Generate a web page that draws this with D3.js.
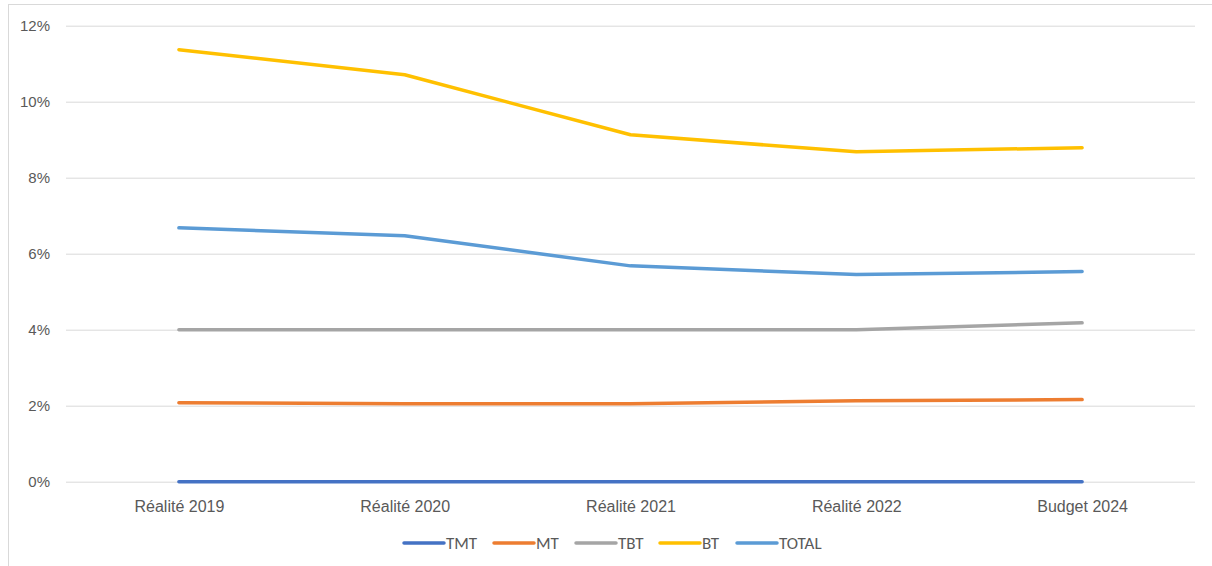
<!DOCTYPE html>
<html>
<head>
<meta charset="utf-8">
<script src="https://cdn.jsdelivr.net/npm/d3@7"></script>
<style>
  body { margin: 0; background: #fff; }
  svg { display: block; font-family: Carlito, "Liberation Sans", "Open Sans", sans-serif; }
</style>
</head>
<body>
<div id="chart"></div>
<script>
// data
const categories = ["Réalité 2019", "Réalité 2020", "Réalité 2021", "Réalité 2022", "Budget 2024"];
const seriesNames = ["TMT", "MT", "TBT", "BT", "TOTAL"];
const tmt = [0, 0, 0, 0, 0];
const mt = [0.0208, 0.0205, 0.0205, 0.0213, 0.0216];
const tbt = [0.04, 0.04, 0.04, 0.04, 0.0418];
const bt = [0.1137, 0.1071, 0.0913, 0.0868, 0.0879];
const total = [0.0668, 0.0647, 0.0568, 0.0545, 0.0553];
const yTicks = [0, 0.02, 0.04, 0.06, 0.08, 0.10, 0.12];

const colors = ["#4472C4", "#ED7D31", "#A5A5A5", "#FFC000", "#5B9BD5"];
const values = [tmt, mt, tbt, bt, total];

const width = 1212, height = 566;
const plot = { left: 66, right: 1195, top: 25.7, bottom: 481.7 };

const svg = d3.select("#chart").append("svg")
  .attr("width", width)
  .attr("height", height);

// chart border
svg.append("rect")
  .attr("x", 8.5).attr("y", 4.5)
  .attr("width", width).attr("height", height)
  .attr("fill", "none")
  .attr("stroke", "#d9d9d9");

const x = d3.scalePoint()
  .domain(categories)
  .range([plot.left, plot.right])
  .padding(0.5);

const y = d3.scaleLinear()
  .domain([0, 0.12])
  .range([plot.bottom, plot.top]);

// gridlines + y labels
const yAxis = svg.append("g")
  .attr("transform", "translate(" + plot.left + ",0)")
  .call(d3.axisLeft(y).tickValues(yTicks).tickFormat(d3.format(".0%"))
    .tickSize(-(plot.right - plot.left)).tickPadding(16));
yAxis.select(".domain").remove();
yAxis.selectAll("line").attr("stroke", "#d9d9d9").attr("stroke-width", 1);
yAxis.selectAll("text").attr("fill", "#595959").style("font-size", "15px");

// x labels
const xAxis = svg.append("g")
  .attr("transform", "translate(0," + plot.bottom + ")")
  .call(d3.axisBottom(x).tickSize(0).tickPadding(0));
xAxis.select(".domain").remove();
xAxis.selectAll("text").attr("fill", "#595959").style("font-size", "16px")
  .attr("dy", null).attr("y", 30);

// lines
const line = d3.line()
  .x((d, i) => x(categories[i]))
  .y(d => y(d));

seriesNames.forEach((name, k) => {
  svg.append("path")
    .datum(values[k])
    .attr("d", line)
    .attr("fill", "none")
    .attr("stroke", colors[k])
    .attr("stroke-width", 3.5)
    .attr("stroke-linejoin", "round")
    .attr("stroke-linecap", "round");
});

// legend
const legendX = [404, 494, 576, 660, 737];
const legend = svg.append("g").attr("transform", "translate(0,543)");
seriesNames.forEach((name, k) => {
  const g = legend.append("g").attr("transform", "translate(" + legendX[k] + ",0)");
  g.append("line")
    .attr("x1", 0).attr("x2", 40)
    .attr("stroke", colors[k])
    .attr("stroke-width", 3.5)
    .attr("stroke-linecap", "round");
  g.append("text")
    .attr("x", 42).attr("y", 6)
    .attr("fill", "#595959")
    .style("font-size", "17px")
    .text(name);
});
</script>
</body>
</html>
